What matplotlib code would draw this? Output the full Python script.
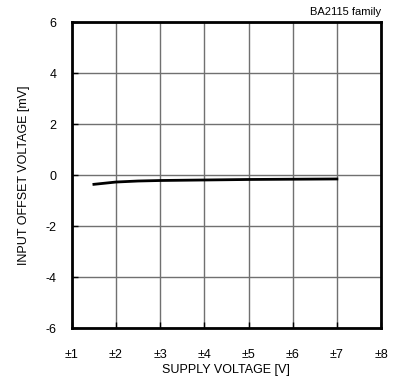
import numpy as np
import matplotlib
matplotlib.use('Agg')
import matplotlib.pyplot as plt

plt.rcParams['font.family'] = ['Liberation Sans', 'DejaVu Sans']
plt.rcParams['axes.unicode_minus'] = False

# 数据
supply_v = [1.5, 2.0, 2.5, 3.0, 4.0, 5.0, 6.0, 7.0]
offset_mv = [-0.36, -0.27, -0.23, -0.21, -0.19, -0.17, -0.16, -0.15]

x_ticks = [1, 2, 3, 4, 5, 6, 7, 8]
x_labels = ['±%d' % v for v in x_ticks]
y_ticks = [-6, -4, -2, 0, 2, 4, 6]

fig = plt.figure(figsize=(3.99, 3.82), dpi=100)
ax = fig.add_axes([0.180, 0.141, 0.775, 0.801])

ax.plot(supply_v, offset_mv, color='black', linewidth=2, zorder=3)

ax.set_xlim(1, 8)
ax.set_ylim(-6, 6)
ax.set_xticks(x_ticks)
ax.set_xticklabels(x_labels)
ax.set_yticks(y_ticks)
ax.grid(True, color='#707070', linewidth=1)

for sp in ax.spines.values():
    sp.set_linewidth(2)
    sp.set_color('black')

ax.tick_params(direction='in', length=4, width=1, labelsize=9)
ax.tick_params(axis='x', pad=15)
ax.tick_params(axis='y', pad=11)

ax.set_xlabel('SUPPLY VOLTAGE [V]', fontsize=9, labelpad=2)
ax.set_ylabel('INPUT OFFSET VOLTAGE [mV]', fontsize=9, labelpad=11)
ax.set_title('BA2115 family', fontsize=8, loc='right', pad=5)

fig.savefig('out.png', dpi=100, facecolor='white')
